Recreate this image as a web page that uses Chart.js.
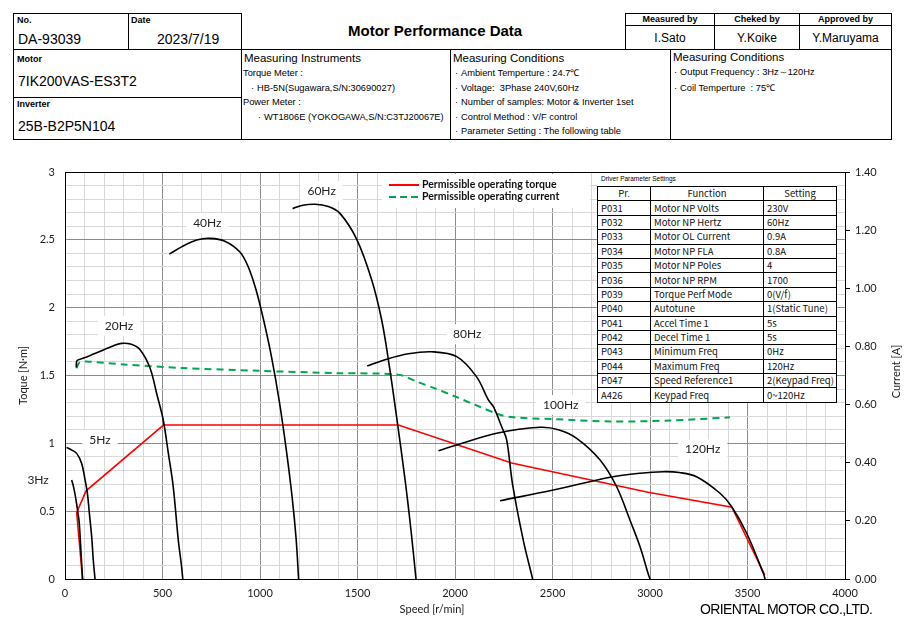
<!DOCTYPE html>
<html>
<head>
<meta charset="utf-8">
<script src="https://cdn.jsdelivr.net/npm/chart.js@4/dist/chart.umd.min.js"></script>
<style>
  body { margin: 0; width: 910px; height: 632px; background: #fff; position: relative; overflow: hidden;
         font-family: "Liberation Sans", Arial, sans-serif; color: #000; }
  .ln { position: absolute; background: #000; }
  .t { position: absolute; white-space: nowrap; line-height: 1; }
  .c { text-align: center; }
  .lab { font-size: 9px; font-weight: bold; }
  .val { font-size: 14px; }
  .sub { font-size: 11.5px; }
  .item { font-size: 9.3px; }
  .b { display: inline-block; width: 6px; }
  #chartBox { position: absolute; left: 0; top: 150px; width: 910px; height: 482px; }
  #params { position: absolute; left: 597px; top: 186px; border-collapse: collapse; background: #fff;
            font-family: "Noto Sans CJK JP", "Liberation Sans", sans-serif; font-size: 9.5px; color: #111; }
  #params td { border: 1px solid #000; height: 13.4px; padding: 0 0 0 3px; line-height: 13px; white-space: nowrap; }
  #params td.h { text-align: center; padding: 0; }
  #paramCap { position: absolute; left: 597px; top: 173px; width: 240px; height: 13px; background: #fff;
              font-size: 6.5px; font-family: "Liberation Sans", sans-serif; padding: 2px 0 0 4px; box-sizing: border-box; }
  #maker { position: absolute; left: 700px; top: 601px; font-size: 14px; font-family: "Liberation Sans", sans-serif; letter-spacing: -0.6px; }
</style>
</head>
<body>
<!-- header frame -->
<div class="ln" style="left:13px;top:13px;width:229px;height:1px"></div>
<div class="ln" style="left:13px;top:13px;width:1px;height:127px"></div>
<div class="ln" style="left:13px;top:49px;width:879px;height:1px"></div>
<div class="ln" style="left:13px;top:97px;width:229px;height:1px"></div>
<div class="ln" style="left:13px;top:139px;width:879px;height:1px"></div>
<div class="ln" style="left:128px;top:13px;width:1px;height:37px"></div>
<div class="ln" style="left:241px;top:13px;width:1px;height:127px"></div>
<div class="ln" style="left:450px;top:49px;width:1px;height:91px"></div>
<div class="ln" style="left:670px;top:49px;width:1px;height:91px"></div>
<div class="ln" style="left:625px;top:13px;width:267px;height:1px"></div>
<div class="ln" style="left:625px;top:25px;width:267px;height:1px"></div>
<div class="ln" style="left:625px;top:13px;width:1px;height:37px"></div>
<div class="ln" style="left:714px;top:13px;width:1px;height:37px"></div>
<div class="ln" style="left:799px;top:13px;width:1px;height:37px"></div>
<div class="ln" style="left:891px;top:13px;width:1px;height:127px"></div>

<div class="t lab" style="left:17px;top:16px">No.</div>
<div class="t val" style="left:18px;top:32px">DA-93039</div>
<div class="t lab" style="left:131px;top:16px">Date</div>
<div class="t val" style="left:157px;top:32px">2023/7/19</div>
<div class="t lab" style="left:17px;top:55px">Motor</div>
<div class="t val" style="left:18px;top:74px">7IK200VAS-ES3T2</div>
<div class="t lab" style="left:17px;top:100px">Inverter</div>
<div class="t val" style="left:18px;top:119px">25B-B2P5N104</div>

<div class="t" style="left:348px;top:23px;font-size:15px;font-weight:bold">Motor Performance Data</div>

<div class="t lab c" style="left:625px;width:90px;top:15px">Measured by</div>
<div class="t lab c" style="left:714px;width:86px;top:15px">Cheked by</div>
<div class="t lab c" style="left:799px;width:93px;top:15px">Approved by</div>
<div class="t sub c" style="left:625px;width:90px;top:32px;font-size:12px">I.Sato</div>
<div class="t sub c" style="left:714px;width:86px;top:32px;font-size:12px">Y.Koike</div>
<div class="t sub c" style="left:799px;width:93px;top:32px;font-size:12px">Y.Maruyama</div>

<div class="t sub" style="left:244px;top:53px">Measuring Instruments</div>
<div class="t item" style="left:243px;top:69px">Torque Meter :</div>
<div class="t item" style="left:251px;top:84px"><span class="b">·</span>HB-5N(Sugawara,S/N:30690027)</div>
<div class="t item" style="left:243px;top:98px">Power Meter :</div>
<div class="t item" style="left:258px;top:113px"><span class="b">·</span>WT1806E (YOKOGAWA,S/N:C3TJ20067E)</div>

<div class="t sub" style="left:453px;top:53px">Measuring Conditions</div>
<div class="t item" style="left:455px;top:69px"><span class="b">·</span>Ambient Temperture : 24.7℃</div>
<div class="t item" style="left:455px;top:84px"><span class="b">·</span>Voltage:&nbsp; 3Phase 240V,60Hz</div>
<div class="t item" style="left:455px;top:98px"><span class="b">·</span>Number of samples: Motor &amp; Inverter 1set</div>
<div class="t item" style="left:455px;top:113px"><span class="b">·</span>Control Method : V/F control</div>
<div class="t item" style="left:455px;top:127px"><span class="b">·</span>Parameter Setting : The following table</div>

<div class="t sub" style="left:673px;top:52px">Measuring Conditions</div>
<div class="t item" style="left:674px;top:68px"><span class="b">·</span>Output Frequency : 3Hz～120Hz</div>
<div class="t item" style="left:674px;top:84px"><span class="b">·</span>Coil Temperture&nbsp; : 75℃</div>

<div id="chartBox"><canvas id="perfChart" width="910" height="482"></canvas></div>

<div id="paramCap">Driver Parameter Settings</div>
<table id="params">
  <colgroup><col style="width:53px"><col style="width:113px"><col style="width:73px"></colgroup>
  <tbody id="paramBody"></tbody>
</table>

<div id="maker">ORIENTAL MOTOR CO.,LTD.</div>

<script>
// axis ticks
const speedTicks = [0, 500, 1000, 1500, 2000, 2500, 3000, 3500, 4000];
const torqueTicks = [0, 0.5, 1, 1.5, 2, 2.5, 3];
const currentTicks = [0, 0.2, 0.4, 0.6, 0.8, 1.0, 1.2, 1.4];

// torque curves, speed [r/min] vs torque [N·m]
const speed3Hz = [34, 42, 52, 60, 66, 72, 78, 84, 90];
const torque3Hz = [0.73, 0.69, 0.62, 0.55, 0.49, 0.43, 0.30, 0.15, 0];
const speed5Hz = [8, 35, 60, 85, 103, 115, 125, 137, 145, 154];
const torque5Hz = [0.97, 0.95, 0.926, 0.853, 0.73, 0.63, 0.484, 0.31, 0.14, 0];
const speed20Hz = [58, 62, 100, 150, 200, 250, 290, 340, 385, 436, 472, 504, 530, 555, 581, 598, 604];
const torque20Hz = [1.56, 1.61, 1.63, 1.66, 1.69, 1.72, 1.737, 1.73, 1.69, 1.555, 1.356, 1.17, 0.926, 0.68, 0.287, 0.09, 0];
const speed40Hz = [535, 600, 680, 744, 820, 897, 940, 980, 1020, 1060, 1100, 1135, 1165, 1185, 1198];
const torque40Hz = [2.395, 2.45, 2.50, 2.511, 2.49, 2.41, 2.30, 2.13, 1.90, 1.63, 1.30, 0.95, 0.6, 0.3, 0];
const speed60Hz = [1167, 1220, 1282, 1350, 1410, 1496, 1573, 1624, 1660, 1700, 1744, 1775, 1800];
const torque60Hz = [2.73, 2.755, 2.762, 2.745, 2.695, 2.504, 2.204, 1.909, 1.6, 1.2, 0.73, 0.35, 0];
const speed80Hz = [1550, 1650, 1760, 1880, 2009, 2111, 2171, 2197, 2240, 2265, 2295, 2350, 2393, 2398];
const torque80Hz = [1.57, 1.62, 1.66, 1.675, 1.639, 1.49, 1.32, 1.27, 1.12, 1.025, 0.70, 0.287, 0.03, 0];
const speed100Hz = [1915, 2009, 2214, 2436, 2530, 2624, 2744, 2829, 2897, 2949, 2991, 3000];
const torque100Hz = [0.946, 0.988, 1.074, 1.118, 1.10, 1.037, 0.877, 0.68, 0.435, 0.238, 0.037, 0];
const speed120Hz = [2231, 2504, 2795, 2950, 3068, 3150, 3239, 3359, 3419, 3496, 3581, 3590];
const torque120Hz = [0.577, 0.656, 0.75, 0.78, 0.791, 0.785, 0.754, 0.632, 0.533, 0.337, 0.042, 0];

// permissible operating torque (red) and current (green, right axis)
const limitSpeed = [90, 60, 108, 505, 1710, 2290, 2990, 3420, 3588];
const limitTorque = [0, 0.49, 0.65, 1.135, 1.135, 0.855, 0.64, 0.53, 0.03];
const currentSpeed = [58, 75, 110, 300, 600, 1000, 1400, 1710, 1800, 1900, 2000, 2100, 2230, 2300, 2500, 2800, 3100, 3410];
const currentValue = [0.725, 0.745, 0.748, 0.738, 0.726, 0.716, 0.708, 0.703, 0.68, 0.655, 0.628, 0.6, 0.565, 0.556, 0.55, 0.542, 0.545, 0.556];

// frequency labels, placed in data units
const hzNames = ["3Hz", "5Hz", "20Hz", "40Hz", "60Hz", "80Hz", "100Hz", "120Hz"];
const hzSpeed = [-138, 179, 277, 730, 1316, 2063, 2542, 3270];
const hzTorque = [0.73, 1.025, 1.867, 2.622, 2.86, 1.804, 1.283, 0.956];

// driver parameter table
const paramNo = ["P031", "P032", "P033", "P034", "P035", "P036", "P039", "P040", "P041", "P042", "P043", "P044", "P047", "A426"];
const paramFunc = ["Motor NP Volts", "Motor NP Hertz", "Motor OL Current", "Motor NP FLA", "Motor NP Poles", "Motor NP RPM",
  "Torque Perf Mode", "Autotune", "Accel Time 1", "Decel Time 1", "Minimum Freq", "Maximum Freq", "Speed Reference1", "Keypad Freq"];
const paramSet = ["230V", "60Hz", "0.9A", "0.8A", "4", "1700", "0(V/f)", "1(Static Tune)", "5s", "5s", "0Hz", "120Hz", "2(Keypad Freq)", "0~120Hz"];

const body = document.getElementById("paramBody");
let rows = '<tr><td class="h">Pr.</td><td class="h">Function</td><td class="h">Setting</td></tr>';
paramNo.forEach((p, i) => {
  rows += `<tr><td>${p}</td><td>${paramFunc[i]}</td><td>${paramSet[i]}</td></tr>`;
});
body.innerHTML = rows;

const pts = (xs, ys) => xs.map((x, i) => ({ x: x, y: ys[i] }));

function curve(xs, ys) {
  return {
    data: pts(xs, ys), borderColor: "#000", borderWidth: 1.6, tension: 0.35,
    pointRadius: 0, showLine: true, yAxisID: "y", fill: false
  };
}

const labelFont = '12px Lato, "Liberation Sans", sans-serif';

const decor = {
  id: "decor",
  beforeDatasetsDraw(chart) {
    const c = chart.ctx, xs = chart.scales.x, ys = chart.scales.y;
    c.save();
    c.font = labelFont;
    hzNames.forEach((n, i) => {
      const px = xs.getPixelForValue(hzSpeed[i]);
      const py = ys.getPixelForValue(hzTorque[i]);
      const w = c.measureText(n).width + 14;
      if (px > chart.chartArea.left) {
        c.fillStyle = "#fff";
        c.fillRect(px - w / 2, py - 10, w, 20);
      }
    });
    // legend box
    c.fillStyle = "#fff";
    c.fillRect(382, 24, 208, 34);
    c.restore();
  },
  afterDraw(chart) {
    const c = chart.ctx, xs = chart.scales.x, ys = chart.scales.y, a = chart.chartArea;
    c.save();
    c.font = labelFont;
    c.fillStyle = "#222";
    c.textAlign = "center";
    c.textBaseline = "middle";
    hzNames.forEach((n, i) => {
      c.fillText(n, xs.getPixelForValue(hzSpeed[i]), ys.getPixelForValue(hzTorque[i]));
    });

    // legend
    c.textAlign = "left";
    c.font = 'bold 10.5px Lato, "Liberation Sans", sans-serif';
    c.lineWidth = 2;
    c.strokeStyle = "#ff0000";
    c.beginPath(); c.moveTo(389, 35); c.lineTo(419, 35); c.stroke();
    c.fillStyle = "#111";
    c.fillText("Permissible operating torque", 422, 35);
    c.strokeStyle = "#00a651";
    c.setLineDash([7, 4]);
    c.beginPath(); c.moveTo(389, 47); c.lineTo(419, 47); c.stroke();
    c.setLineDash([]);
    c.fillText("Permissible operating current", 422, 47);

    // axis titles
    c.font = '11px Lato, "Liberation Sans", sans-serif';
    c.fillStyle = "#1a1a1a";
    c.textAlign = "center";
    const midY = (a.top + a.bottom) / 2;
    c.save(); c.translate(23, midY); c.rotate(-Math.PI / 2); c.fillText("Toque [N·m]", 0, 0); c.restore();
    c.save(); c.translate(896, midY - 4); c.rotate(-Math.PI / 2); c.fillText("Current [A]", 0, 0); c.restore();
    c.fillText("Speed [r/min]", 432, 459);
    c.restore();
  }
};

const tickFont = { family: 'Lato, "Liberation Sans", sans-serif', size: 11 };

new Chart(document.getElementById("perfChart"), {
  type: "scatter",
  data: {
    datasets: [
      curve(speed3Hz, torque3Hz),
      curve(speed5Hz, torque5Hz),
      curve(speed20Hz, torque20Hz),
      curve(speed40Hz, torque40Hz),
      curve(speed60Hz, torque60Hz),
      curve(speed80Hz, torque80Hz),
      curve(speed100Hz, torque100Hz),
      curve(speed120Hz, torque120Hz),
      {
        label: "Permissible operating torque", data: pts(limitSpeed, limitTorque),
        borderColor: "#ff0000", borderWidth: 1.6, tension: 0, pointRadius: 0, showLine: true, yAxisID: "y"
      },
      {
        label: "Permissible operating current", data: pts(currentSpeed, currentValue),
        borderColor: "#00a651", borderWidth: 2, borderDash: [7, 5], tension: 0.3, pointRadius: 0, showLine: true, yAxisID: "y2"
      }
    ]
  },
  options: {
    responsive: false,
    animation: false,
    devicePixelRatio: 1,
    layout: { padding: { top: 22, left: 0, right: 0, bottom: 0 } },
    plugins: { legend: { display: false }, tooltip: { enabled: false } },
    scales: {
      x: {
        type: "linear", min: 0, max: 4000,
        afterBuildTicks: (s) => {
          s.ticks = [];
          for (let v = 0; v <= 4000; v += 100) s.ticks.push({ value: v });
        },
        afterFit: (s) => { s.height = 53; },
        ticks: {
          autoSkip: false, maxRotation: 0, padding: 8, font: tickFont, color: "#1a1a1a",
          callback: (v) => speedTicks.includes(v) ? String(v) : ""
        },
        grid: {
          drawTicks: false,
          color: (ctx) => ctx.tick && ctx.tick.value % 500 === 0 ? "#8c8c8c" : "#d9d9d9"
        },
        border: { color: "#000", width: 1 }
      },
      y: {
        type: "linear", position: "left", min: 0, max: 3,
        afterBuildTicks: (s) => {
          s.ticks = [];
          for (let i = 0; i <= 30; i++) s.ticks.push({ value: i / 10 });
        },
        afterFit: (s) => { s.width = 65; },
        ticks: {
          autoSkip: false, padding: 10, font: tickFont, color: "#1a1a1a",
          callback: (v) => torqueTicks.some(t => Math.abs(t - v) < 1e-6) ? String(Math.round(v * 10) / 10) : ""
        },
        grid: {
          drawTicks: false,
          color: (ctx) => {
            const v = ctx.tick ? Math.round(ctx.tick.value * 10) : 0;
            if (v === 30) return "#000";
            return v % 5 === 0 ? "#8c8c8c" : "#d9d9d9";
          }
        },
        border: { color: "#000", width: 1 }
      },
      y2: {
        type: "linear", position: "right", min: 0, max: 1.4,
        afterBuildTicks: (s) => { s.ticks = currentTicks.map(v => ({ value: v })); },
        afterFit: (s) => { s.width = 65; },
        ticks: { padding: 5, font: tickFont, color: "#1a1a1a", callback: (v) => v.toFixed(2) },
        grid: { drawOnChartArea: false, tickLength: 5, color: "#000" },
        border: { color: "#000", width: 1 }
      }
    }
  },
  plugins: [decor]
});
</script>
</body>
</html>
